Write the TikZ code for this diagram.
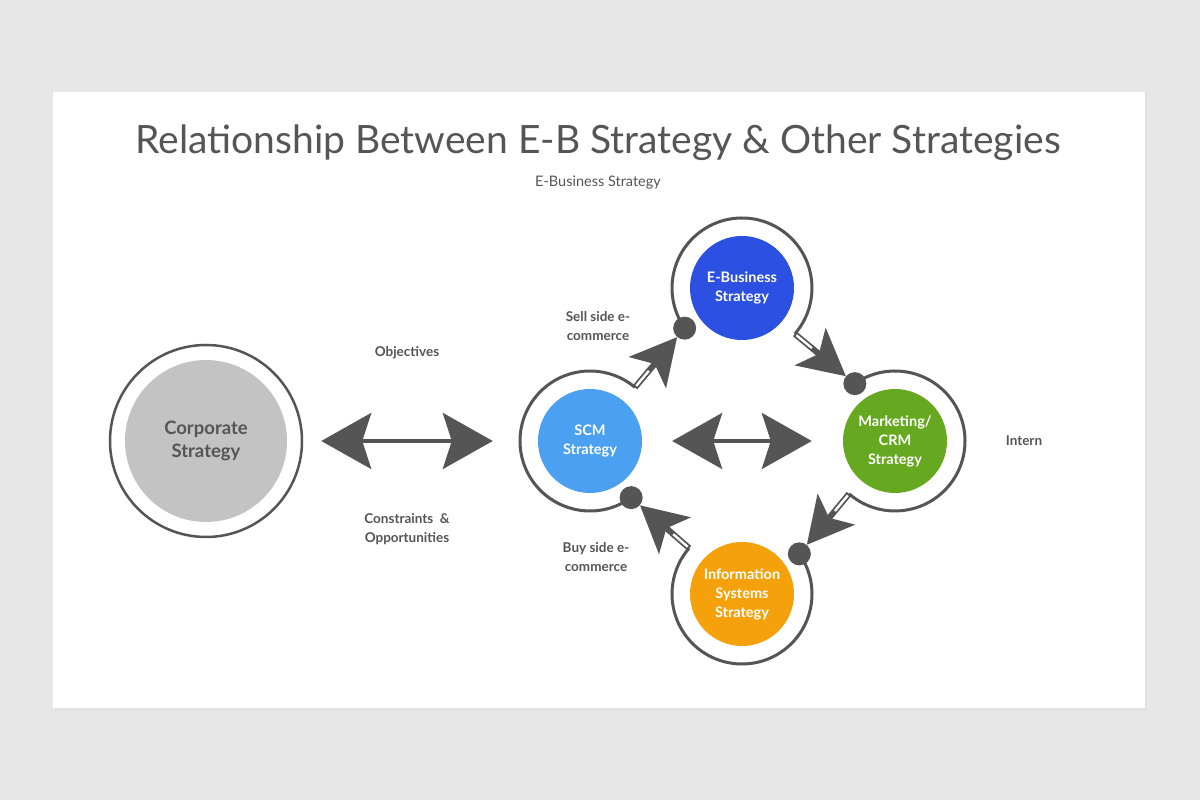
\documentclass[tikz,border=0pt]{standalone}
\usepackage{fontspec}
\setmainfont{Lato}
\usepackage{tikz}
\usetikzlibrary{arrows.meta,positioning}

\definecolor{pagegray}{HTML}{E8E7E8}
\definecolor{ringgray}{HTML}{555555}
\definecolor{txtgray}{HTML}{555555}
\definecolor{corpgray}{HTML}{C3C3C3}
\definecolor{ebizblue}{HTML}{2B50E2}
\definecolor{scmblue}{HTML}{4BA0F2}
\definecolor{mktgreen}{HTML}{66A820}
\definecolor{infoorange}{HTML}{F5A10B}

\begin{document}
\begin{tikzpicture}[
x=1pt, y=1pt,
hub/.style={circle,inner sep=0pt,minimum size=104pt,text=white,align=center,
  font=\bfseries\fontsize{14.5}{19}\selectfont},
pin/.style={circle,fill=ringgray,inner sep=0pt,minimum size=23pt},
shaft/.style={line width=6pt,draw=ringgray,
  -{Stealth[length=46pt,width=48pt,inset=11pt]}},
core/.style={line width=2.4pt,draw=white,shorten <=2pt,shorten >=44pt},
both/.style={line width=3.5pt,draw=ringgray,
  {Stealth[length=50pt,width=56pt,inset=9pt]}-{Stealth[length=50pt,width=56pt,inset=9pt]}},
lbl/.style={text=txtgray,align=center,font=\bfseries\fontsize{13.5}{18.5}\selectfont}
]
    % Page and card
    \fill[pagegray] (0,0) rectangle (1200,800);
    \fill[black!12] (54,90) rectangle (1147,707);
    \fill[white] (53,92) rectangle (1145,708);

    % Titles
    \node[text=txtgray,font=\fontsize{39}{46}\selectfont] (title) at (598,657)
        {Relationship Between E-B Strategy \& Other Strategies};
    \node[text=txtgray,font=\fontsize{14.5}{17}\selectfont] (subtitle) at (598,617)
        {E-Business Strategy};

    % Strategy circles
    \node[circle,draw=ringgray,line width=2.5pt,inner sep=0pt,minimum size=192pt,
        text=txtgray,align=center,font=\bfseries\fontsize{18.5}{23}\selectfont,
        path picture={\fill[corpgray] (path picture bounding box.center) circle (81pt);}]
        (corp) at (206,359) {Corporate\\Strategy};
    \node[hub,fill=scmblue] (scm) at (590,359) {SCM\\Strategy};
    \node[hub,fill=ebizblue] (ebiz) at (742,512) {E-Business\\Strategy};
    \node[hub,fill=mktgreen] (mkt) at (895,359) {Marketing/\\CRM\\Strategy};
    \node[hub,fill=infoorange] (info) at (742,206) {Information\\Systems\\Strategy};

    % Dots on the rings
    \node[pin] (scmpin) at ([shift={(-54:70)}]scm.center) {};
    \node[pin] (ebizpin) at ([shift={(215:70)}]ebiz.center) {};
    \node[pin] (mktpin) at ([shift={(125:70)}]mkt.center) {};
    \node[pin] (infopin) at ([shift={(35:70)}]info.center) {};

    % Rings, from the dot round to the exit
    \foreach \hub/\a in {scm/-54,ebiz/215,mkt/125,info/35}{
        \fill[ringgray] ([shift={(\a:71.5)}]\hub.center)
            arc[start angle=\a, delta angle=-256, radius=71.5]
            -- ([shift={(\a-256:68.5)}]\hub.center)
            arc[start angle=\a-256, delta angle=256, radius=68.5] -- cycle;
        \coordinate (\hub exit) at ([shift={(\a-256:70)}]\hub.center);
    }

    % Arrows from ring to ring
    \draw[shaft] (scmexit) -- (ebizpin);
    \draw[core] (scmexit) -- (ebizpin);
    \draw[shaft] (ebizexit) -- (mktpin);
    \draw[core] (ebizexit) -- (mktpin);
    \draw[shaft] (mktexit) -- (infopin);
    \draw[core] (mktexit) -- (infopin);
    \draw[shaft] (infoexit) -- (scmpin);
    \draw[core] (infoexit) -- (scmpin);

    % Two-way arrows
    \draw[both,shorten <=18pt,shorten >=45pt] (corp) -- (scm);
    \draw[both,shorten <=30pt,shorten >=31pt] (scm) -- (mkt);

    % Labels
    \node[lbl] (objectives) at (407,447) {Objectives};
    \node[lbl] (constraints) at (407,271) {Constraints \ \&\\Opportunities};
    \node[lbl] (sellside) at (598,474) {Sell side e-\\commerce};
    \node[lbl] (buyside) at (596,243) {Buy side e-\\commerce};
    \node[lbl] (intern) at (1024,359) {Intern};
\end{tikzpicture}
\end{document}
